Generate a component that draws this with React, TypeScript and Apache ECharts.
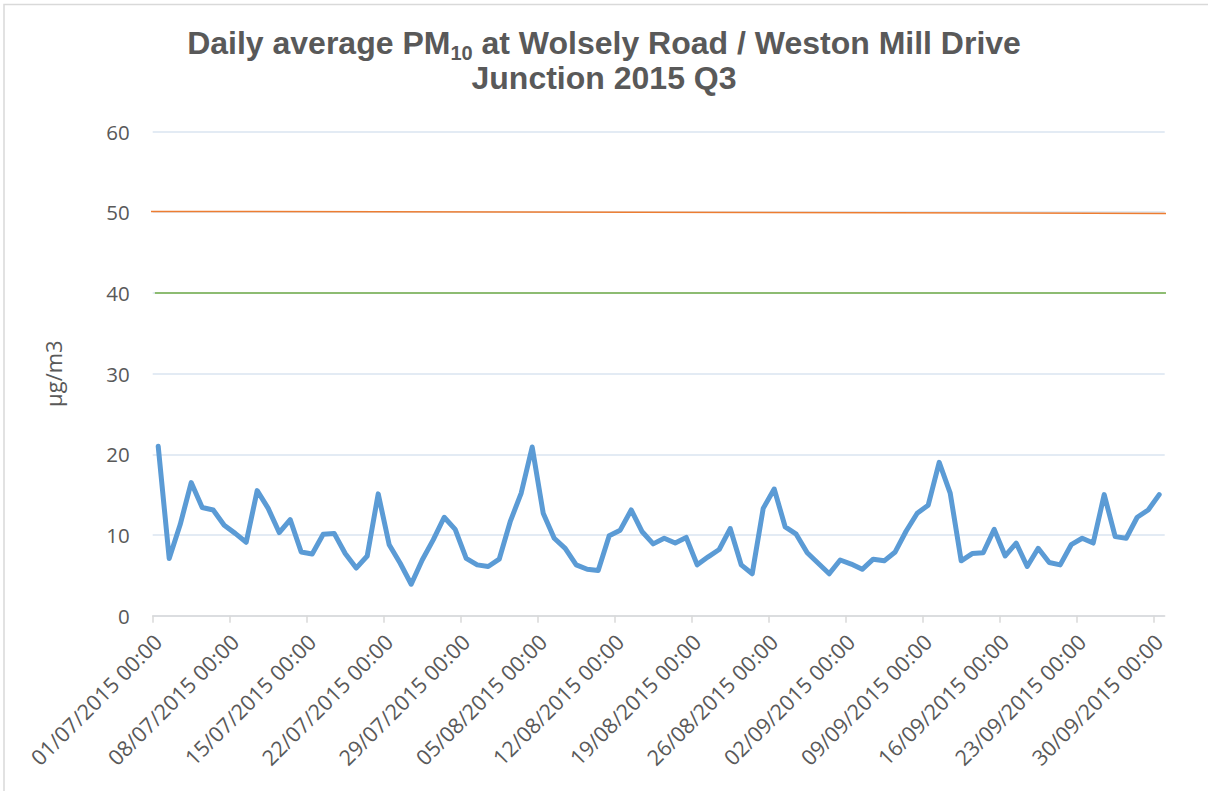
import React, { useEffect, useRef } from "react";
import * as echarts from "echarts";

const TICK_LABELS = [
  "01/07/2015 00:00", "08/07/2015 00:00", "15/07/2015 00:00", "22/07/2015 00:00",
  "29/07/2015 00:00", "05/08/2015 00:00", "12/08/2015 00:00", "19/08/2015 00:00",
  "26/08/2015 00:00", "02/09/2015 00:00", "09/09/2015 00:00", "16/09/2015 00:00",
  "23/09/2015 00:00", "30/09/2015 00:00",
];
const DAYS_PER_TICK = 7;
const NUM_DAYS = 92;

// Daily average PM10, 01/07/2015 .. 30/09/2015
const PM10 = [
  21.0, 7.1, 11.3, 16.5, 13.4, 13.1, 11.2, 10.2, 9.1, 15.5,
  13.3, 10.3, 11.9, 7.9, 7.65, 10.1, 10.2, 7.7, 5.9, 7.4,
  15.1, 8.8, 6.5, 3.9, 6.9, 9.4, 12.2, 10.7, 7.1, 6.3,
  6.1, 7.0, 11.65, 15.2, 20.9, 12.7, 9.6, 8.35, 6.3, 5.75,
  5.6, 9.9, 10.6, 13.1, 10.4, 8.9, 9.6, 9.0, 9.7, 6.3,
  7.3, 8.2, 10.8, 6.3, 5.2, 13.3, 15.7, 11.0, 10.1, 7.8,
  6.5, 5.2, 6.9, 6.4, 5.75, 7.0, 6.8, 7.9, 10.5, 12.7,
  13.7, 19.0, 15.2, 6.8, 7.7, 7.8, 10.7, 7.4, 9.0, 6.1,
  8.35, 6.6, 6.3, 8.8, 9.6, 9.0, 15.0, 9.8, 9.6, 12.2,
  13.1, 15.0,
];

// Reference lines (start / end values)
const LIMIT_50 = [50.1, 49.85];
const LIMIT_40 = [40, 40];

const Y_MIN = 0;
const Y_MAX = 60;
const Y_INTERVAL = 10;

export default function App() {
  const ref = useRef<HTMLDivElement>(null);

  useEffect(() => {
    document.body.style.margin = "0";
    const chart = echarts.init(ref.current!, null, { renderer: "svg" });
    const tickValues = TICK_LABELS.map((_, i) => i * DAYS_PER_TICK);
    // labels sit slightly right of their tick, as in the original
    const labelValues = tickValues.map((v) => v + 0.45);
    const labelFont = "'Open Sans', 'Noto Sans', sans-serif";
    const titleFont = "'Liberation Sans', Arial, sans-serif";

    chart.setOption({
      animation: false,
      backgroundColor: "#ffffff",
      title: {
        text:
          "{t|Daily average PM}{s|10}{t| at Wolsely Road / Weston Mill Drive}\n{t|Junction 2015 Q3}",
        left: "center",
        top: 20,
        textStyle: {
          rich: {
            t: {
              fontFamily: titleFont,
              fontWeight: "bold",
              fontSize: 32,
              color: "#595959",
              lineHeight: 35,
            },
            s: {
              fontFamily: titleFont,
              fontWeight: "bold",
              fontSize: 20,
              color: "#595959",
              lineHeight: 20,
              padding: [20, 0, 0, 0],
            },
          },
        },
      },
      graphic: [
        {
          type: "rect",
          shape: { x: 4, y: 4.5, width: 1400, height: 1000 },
          style: { fill: "none", stroke: "#d9d9d9", lineWidth: 1.5 },
          silent: true,
          z: -1,
        },
      ],
      grid: { left: 152.7, right: 43.3, top: 131.5, bottom: 175.3 },
      xAxis: {
        type: "value",
        min: 0,
        max: NUM_DAYS,
        splitLine: { show: false },
        axisLine: { show: true, lineStyle: { color: "#d9d9d9", width: 1.5 } },
        axisTick: {
          show: true,
          length: 7,
          lineStyle: { color: "#d9d9d9", width: 1.5 },
          customValues: tickValues,
        },
        axisLabel: {
          customValues: labelValues,
          rotate: 45,
          margin: 22,
          fontFamily: labelFont,
          fontSize: 21.5,
          color: "#595959",
          formatter: (v: number) => {
            const k = Math.round(v / DAYS_PER_TICK);
            return TICK_LABELS[k] ?? "";
          },
        },
      },
      yAxis: {
        type: "value",
        min: Y_MIN,
        max: Y_MAX,
        interval: Y_INTERVAL,
        name: "µg/m3",
        nameLocation: "middle",
        nameRotate: 90,
        nameGap: 89,
        nameTextStyle: { fontFamily: labelFont, fontSize: 22, color: "#595959" },
        axisLine: { show: false },
        axisTick: { show: false },
        axisLabel: { fontFamily: labelFont, fontSize: 20.5, color: "#595959", margin: 23 },
        splitLine: { lineStyle: { color: "#dae5f1", width: 1.5 } },
      },
      series: [
        {
          name: "PM10",
          type: "line",
          data: PM10.map((v, i) => [i + 0.5, v]),
          showSymbol: false,
          symbol: "none",
          lineStyle: { color: "#5b9bd5", width: 5, join: "round", cap: "round" },
          z: 3,
        },
        {
          name: "Limit 50",
          type: "line",
          data: [[-0.4, LIMIT_50[0]], [NUM_DAYS + 0.5, LIMIT_50[1]]],
          clip: false,
          symbol: "none",
          lineStyle: { color: "#ed7d31", width: 1.5 },
          z: 2,
        },
        {
          name: "Limit 40",
          type: "line",
          data: [[0.2, LIMIT_40[0]], [NUM_DAYS + 0.5, LIMIT_40[1]]],
          clip: false,
          symbol: "none",
          lineStyle: { color: "#70ad47", width: 1.5 },
          z: 2,
        },
      ],
    });
    return () => chart.dispose();
  }, []);

  return <div ref={ref} style={{ width: 1208, height: 791 }} />;
}
